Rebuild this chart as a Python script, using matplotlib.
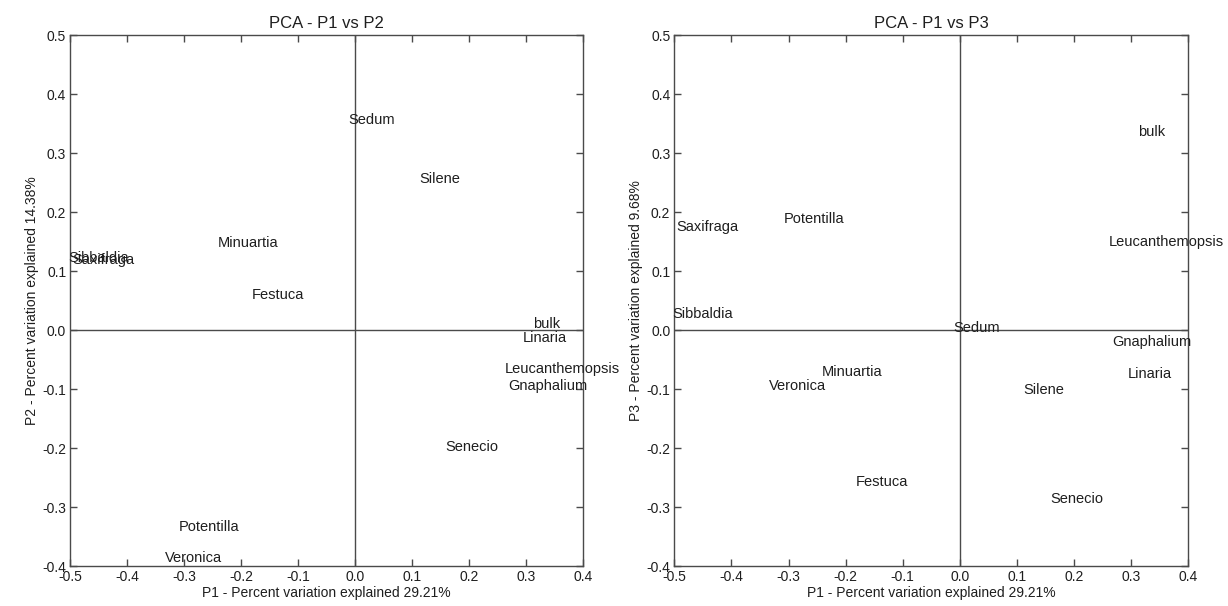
import numpy as np
import matplotlib.pyplot as plt

plt.rcParams['font.family'] = ['Liberation Sans', 'DejaVu Sans']
plt.rcParams['axes.unicode_minus'] = False

species = ['Sedum', 'Silene', 'Minuartia', 'Festuca', 'Saxifraga', 'Sibbaldia',
           'bulk', 'Linaria', 'Leucanthemopsis', 'Gnaphalium', 'Senecio',
           'Potentilla', 'Veronica']

# principal component scores per species
p1 = [-0.012, 0.112, -0.242, -0.182, -0.497, -0.504,
      0.312, 0.294, 0.262, 0.268, 0.158, -0.309, -0.334]
p2 = [0.356, 0.256, 0.147, 0.060, 0.118, 0.122,
      0.010, -0.013, -0.066, -0.095, -0.199, -0.334, -0.387]
p3 = [0.003, -0.102, -0.071, -0.258, 0.175, 0.027,
      0.335, -0.075, 0.149, -0.020, -0.286, 0.188, -0.095]

var_p1 = 29.21
var_p2 = 14.38
var_p3 = 9.68

xticks = [-0.5, -0.4, -0.3, -0.2, -0.1, 0.0, 0.1, 0.2, 0.3, 0.4]
yticks = [-0.4, -0.3, -0.2, -0.1, 0.0, 0.1, 0.2, 0.3, 0.4, 0.5]

txt_col = '#1e1e1e'
line_col = '#4a4a4a'

fig = plt.figure(figsize=(12.28, 6.06), dpi=100)
ax1 = fig.add_axes([0.0573, 0.066, 0.4174, 0.876])
ax2 = fig.add_axes([0.5492, 0.066, 0.4182, 0.876])


def pca_panel(ax, xs, ys, title, xlabel, ylabel):
    ax.set_xlim(-0.5, 0.4)
    ax.set_ylim(-0.4, 0.5)
    ax.axhline(0, color=line_col, lw=1.0)
    ax.axvline(0, color=line_col, lw=1.0)
    for name, x, y in zip(species, xs, ys):
        ax.text(x, y, name, ha='left', va='center', fontsize=10.5, color=txt_col)
    ax.set_xticks(xticks)
    ax.set_xticklabels(['%.1f' % t for t in xticks])
    ax.set_yticks(yticks)
    ax.set_yticklabels(['%.1f' % t for t in yticks])
    ax.tick_params(direction='in', length=5, width=1, color=line_col,
                   top=True, right=True, labelsize=10, labelcolor=txt_col, pad=3)
    for s in ax.spines.values():
        s.set_color(line_col)
        s.set_linewidth(1.0)
    ax.set_title(title, fontsize=12, color=txt_col, pad=5)
    ax.set_xlabel(xlabel, fontsize=10, color=txt_col, labelpad=1)
    ax.set_ylabel(ylabel, fontsize=10, color=txt_col, labelpad=2)


pca_panel(ax1, p1, p2, 'PCA - P1 vs P2',
          'P1 - Percent variation explained %.2f%%' % var_p1,
          'P2 - Percent variation explained %.2f%%' % var_p2)
pca_panel(ax2, p1, p3, 'PCA - P1 vs P3',
          'P1 - Percent variation explained %.2f%%' % var_p1,
          'P3 - Percent variation explained %.2f%%' % var_p3)

fig.savefig('out.png', dpi=100, facecolor='white')
